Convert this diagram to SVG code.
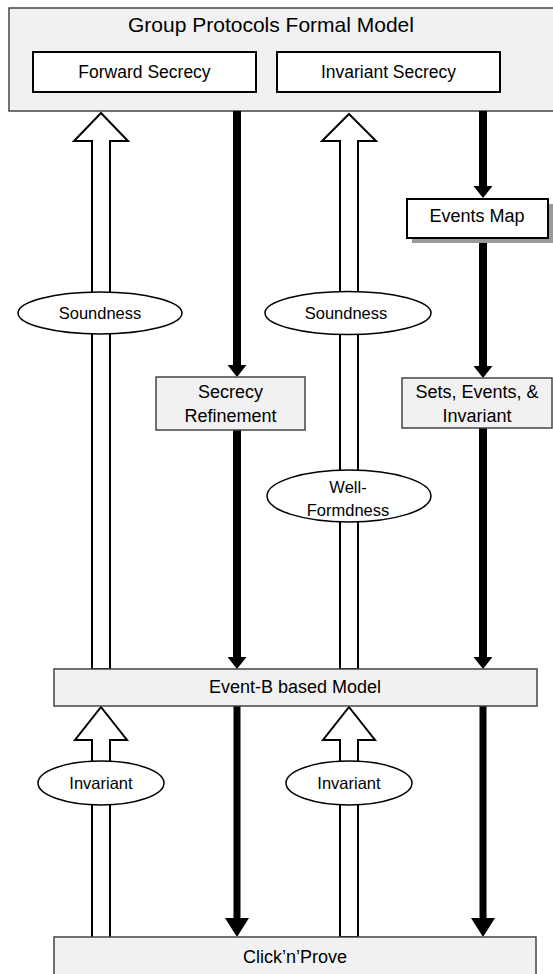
<svg xmlns="http://www.w3.org/2000/svg" width="553" height="974" viewBox="0 0 553 974">
  <style>
    text { font-family: "Liberation Sans", Arial, sans-serif; fill: #000; text-anchor: middle; }
    .panel { fill: #f1f1f1; stroke: #444; stroke-width: 1.5; }
    .plain { fill: #fff; stroke: #000; stroke-width: 2; }
    .hollow { fill: #fff; stroke: #000; stroke-width: 2; stroke-linejoin: miter; }
    .solid { fill: #000; stroke: none; }
    .oval { fill: #fff; stroke: #000; stroke-width: 1.5; }
    .t21 { font-size: 21px; }
    .t18 { font-size: 18px; }
    .t17 { font-size: 17.5px; }
    .t16 { font-size: 16.5px; }
  </style>

  <!-- top-level model with its two secrecy properties -->
  <g id="formal-model">
    <rect class="panel" x="9" y="8" width="555" height="103"/>
    <text class="t21" x="271" y="32">Group Protocols Formal Model</text>
  </g>
  <g id="forward-secrecy">
    <rect class="plain" x="33" y="52" width="223" height="40"/>
    <text class="t17" x="144.5" y="78">Forward Secrecy</text>
  </g>
  <g id="invariant-secrecy">
    <rect class="plain" x="277" y="52" width="223" height="40"/>
    <text class="t17" x="388.5" y="78">Invariant Secrecy</text>
  </g>

  <!-- connectors: hollow arrows point up, solid arrows point down -->
  <g id="connectors">
    <!-- hollow upward arrows -->
    <path class="hollow" d="M101,113 L128,141 L110,141 L110,669 L92,669 L92,141 L74,141 Z"/>
    <path class="hollow" d="M349,114 L376,141 L358,141 L358,669 L340,669 L340,141 L322,141 Z"/>
    <path class="hollow" d="M101,707 L127,740 L110,740 L110,938 L92,938 L92,740 L75,740 Z"/>
    <path class="hollow" d="M349,707 L375,740 L358,740 L358,937 L340,937 L340,740 L323,740 Z"/>

    <!-- solid downward arrows (upper half) -->
    <path class="solid" d="M233,111 L241,111 L241,365 L246.5,365 L237,377 L227.5,365 L233,365 Z"/>
    <path class="solid" d="M233,430 L241,430 L241,657 L246.5,657 L237,669 L227.5,657 L233,657 Z"/>
    <path class="solid" d="M479,111 L487,111 L487,186 L492.5,186 L483,198 L473.5,186 L479,186 Z"/>
    <path class="solid" d="M479,238 L487,238 L487,366 L492.5,366 L483,378 L473.5,366 L479,366 Z"/>
    <path class="solid" d="M479,428 L487,428 L487,657 L492.5,657 L483,669 L473.5,657 L479,657 Z"/>

    <!-- solid downward arrows (lower half) -->
    <path class="solid" d="M233.5,706 L240.5,706 L240.5,918 L249,918 L237,937 L225,918 L233.5,918 Z"/>
    <path class="solid" d="M479.5,706 L486.5,706 L486.5,918 L495,918 L483,937 L471,918 L479.5,918 Z"/>
  </g>

  <!-- labels on the hollow arrows -->
  <g id="soundness-left">
    <ellipse class="oval" cx="100" cy="313" rx="82" ry="21"/>
    <text class="t16" x="100" y="318.5">Soundness</text>
  </g>
  <g id="soundness-right">
    <ellipse class="oval" cx="348" cy="313" rx="83" ry="21.5"/>
    <text class="t16" x="346" y="318.5">Soundness</text>
  </g>
  <g id="well-formdness">
    <ellipse class="oval" cx="349" cy="496" rx="82" ry="26"/>
    <text class="t16" x="348" y="493">Well-</text>
    <text class="t16" x="348" y="516">Formdness</text>
  </g>
  <g id="invariant-left">
    <ellipse class="oval" cx="101" cy="783" rx="63" ry="22"/>
    <text class="t16" x="101" y="789">Invariant</text>
  </g>
  <g id="invariant-right">
    <ellipse class="oval" cx="349" cy="783" rx="63" ry="22"/>
    <text class="t16" x="349" y="789">Invariant</text>
  </g>

  <!-- intermediate steps -->
  <g id="events-map">
    <rect x="412" y="204" width="141" height="39" fill="#999"/>
    <rect class="plain" x="407" y="199" width="141" height="39"/>
    <text class="t18" x="477" y="222">Events Map</text>
  </g>
  <g id="secrecy-refinement">
    <rect class="panel" x="156" y="377" width="149" height="53"/>
    <text class="t18" x="230.5" y="398">Secrecy</text>
    <text class="t18" x="230.5" y="421.5">Refinement</text>
  </g>
  <g id="sets-events-invariant">
    <rect class="panel" x="402" y="378" width="150" height="50"/>
    <text class="t18" x="477" y="398">Sets, Events, &amp;</text>
    <text class="t18" x="477" y="421.5">Invariant</text>
  </g>

  <!-- Event-B layer and the prover -->
  <g id="event-b-model">
    <rect class="panel" x="54" y="669" width="483" height="37"/>
    <text class="t18" x="295" y="693">Event-B based Model</text>
  </g>
  <g id="click-n-prove">
    <rect class="panel" x="54" y="937" width="482" height="45"/>
    <text class="t18" x="295" y="963">Click’n’Prove</text>
  </g>
</svg>
